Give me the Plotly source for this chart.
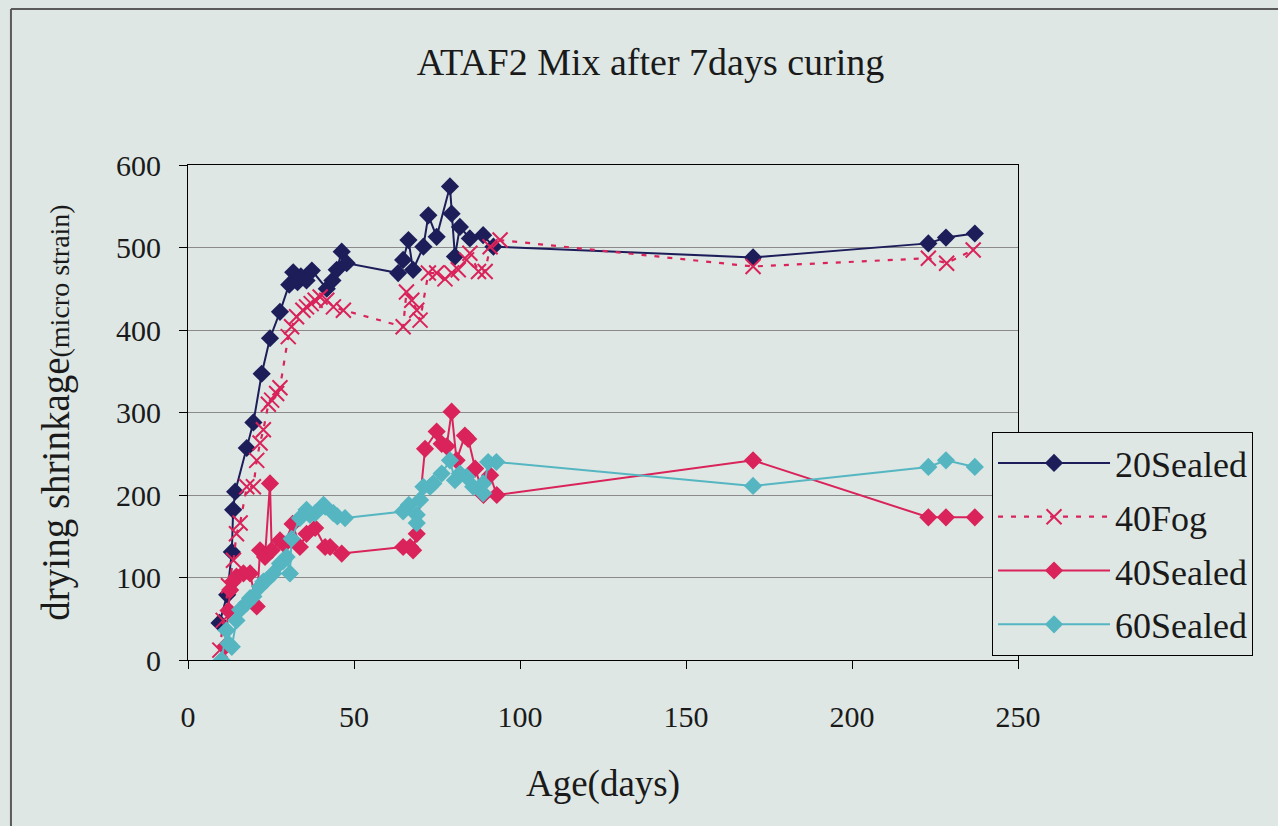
import plotly.graph_objects as go

# Age (days) and drying shrinkage (micro strain) for each curing condition
age_20sealed = [9.5, 11.8, 13.2, 13.6, 14.2, 17.7, 19.7, 22.2, 24.7, 27.7,
                30.5, 31.7, 33.0, 34.0, 35.7, 37.3, 41.8, 43.5, 44.8, 46.3, 47.8,
                63.3, 64.8, 66.4, 67.8, 70.9, 72.4, 74.9, 78.9, 79.4, 80.4,
                81.9, 84.9, 88.9, 92.0, 170.2, 223.0, 228.3, 237.0]
shr_20sealed = [45, 79, 131, 182, 204, 257, 288, 347, 390, 422,
                455, 470, 458, 465, 460, 472, 450, 460, 473, 495, 481,
                469, 485, 509, 473, 501, 539, 513, 574, 541, 489,
                525, 511, 515, 501, 488, 505, 512, 517]

age_40fog = [9.6, 10.6, 12.2, 13.7, 14.6, 15.7, 17.7, 19.7, 20.7, 21.7,
             22.7, 24.2, 25.2, 26.7, 27.7, 30.2, 31.2, 32.7, 34.6, 35.7,
             37.1, 38.3, 39.8, 41.8, 43.8, 46.8, 64.8, 65.8, 67.4, 68.9,
             69.9, 72.4, 74.9, 77.4, 79.4, 81.4, 83.9, 84.9, 87.5, 89.5,
             91.0, 94.0, 170.2, 223.0, 228.5, 236.5]
shr_40fog = [12, 48, 90, 121, 153, 166, 210, 210, 242, 263,
             279, 310, 315, 323, 330, 392, 404, 416, 424, 428,
             432, 436, 440, 436, 428, 424, 404, 446, 436, 424,
             412, 469, 469, 462, 469, 473, 485, 493, 471, 471,
             501, 509, 477, 487, 481, 497]

age_40sealed = [11.1, 12.2, 12.7, 13.5, 14.6, 16.7, 18.7, 20.7, 21.7, 23.2,
                24.7, 25.2, 27.7, 29.0, 31.5, 33.7, 35.7, 38.3, 41.3, 42.8,
                46.3, 64.8, 66.9, 67.8, 68.9, 71.4, 74.9, 76.4, 77.9, 79.4,
                80.9, 83.4, 84.4, 86.5, 89.0, 91.0, 93.0, 170.2, 223.0, 228.3, 237.0]
shr_40sealed = [16, 60, 85, 95, 101, 105, 105, 65, 133, 125,
                214, 133, 145, 140, 165, 137, 153, 160, 137, 137,
                129, 137, 137, 133, 153, 256, 277, 262, 259, 301,
                242, 272, 268, 232, 200, 224, 200, 242, 173, 173, 173]

age_60sealed = [10.1, 11.6, 12.2, 13.2, 14.6, 15.7, 17.7, 18.7, 19.7, 21.7,
                22.7, 23.7, 25.7, 27.7, 28.7, 29.7, 30.7, 31.2, 33.7, 35.7,
                36.7, 38.3, 40.8, 41.3, 43.8, 45.0, 47.3, 64.8, 66.5, 68.9,
                68.9, 69.9, 70.9, 72.9, 73.9, 76.4, 78.9, 80.4, 81.9, 83.9,
                85.9, 88.9, 88.9, 90.4, 92.9, 170.2, 223.0, 228.3, 237.0]
shr_60sealed = [0, 36, 20, 16, 48, 61, 69, 75, 77, 89,
                95, 97, 105, 117, 120, 125, 105, 147, 172, 182,
                176, 178, 188, 186, 178, 174, 172, 180, 188, 166,
                176, 194, 210, 210, 214, 226, 242, 218, 226, 222,
                210, 214, 202, 240, 240, 211, 234, 242, 234]

x_ticks = [0, 50, 100, 150, 200, 250]
y_ticks = [0, 100, 200, 300, 400, 500, 600]

NAVY = "#1d1d5a"
CRIMSON = "#d9235a"
TEAL = "#55b6c2"
BG = "#dee7e4"
INK = "#1a1a1a"
SERIF = "Liberation Serif, Times New Roman, serif"

fig = go.Figure()
fig.add_trace(go.Scatter(
    x=age_20sealed, y=shr_20sealed, name="20Sealed", legendgroup="a",
    mode="lines+markers", line=dict(color=NAVY, width=2),
    marker=dict(symbol="diamond", size=14, color=NAVY)))
fig.add_trace(go.Scatter(
    x=age_40fog, y=shr_40fog, name="40Fog", legendgroup="b",
    mode="lines+markers", line=dict(color=CRIMSON, width=2.2, dash="5px,8px"),
    marker=dict(symbol="x-thin-open", size=15,
                line=dict(color=CRIMSON, width=2))))
fig.add_trace(go.Scatter(
    x=age_40sealed, y=shr_40sealed, name="40Sealed", legendgroup="c",
    mode="lines+markers", line=dict(color=CRIMSON, width=2),
    marker=dict(symbol="diamond", size=14, color=CRIMSON)))
fig.add_trace(go.Scatter(
    x=age_60sealed, y=shr_60sealed, name="60Sealed", legendgroup="d",
    mode="lines+markers", line=dict(color=TEAL, width=2),
    marker=dict(symbol="diamond", size=14, color=TEAL)))

axis_common = dict(
    showline=True, linecolor="#000000", linewidth=1, mirror=True,
    ticks="outside", ticklen=8, tickcolor="#000000",
    tickfont=dict(family=SERIF, size=30, color=INK),
    zeroline=False,
)

fig.update_xaxes(
    range=[0, 250], tickvals=x_ticks, showgrid=False,
    ticklabelstandoff=22,
    title=dict(text="Age(days)", font=dict(family=SERIF, size=37, color=INK),
               standoff=38),
    **axis_common)
fig.update_yaxes(
    range=[0, 600], tickvals=y_ticks, showgrid=True,
    gridcolor="#8a8a8a", gridwidth=1, ticklabelstandoff=12,
    title=dict(text="drying shrinkage<span style='font-size:28px'>(micro strain)</span>",
               font=dict(family=SERIF, size=39, color=INK), standoff=34),
    **axis_common)

fig.update_layout(
    width=1278, height=826,
    margin=dict(l=188, r=260, t=165, b=166),
    paper_bgcolor=BG, plot_bgcolor=BG,
    title=dict(text="ATAF2 Mix after 7days curing",
               font=dict(family=SERIF, size=38, color=INK),
               x=0.509, xanchor="center", xref="container",
               y=0.925, yanchor="middle", yref="container"),
    legend=dict(
        x=0.9687, y=0.4606, xanchor="left", yanchor="top",
        bgcolor=BG, bordercolor="#000000", borderwidth=1,
        font=dict(family=SERIF, size=36, color=INK),
        itemwidth=112, tracegroupgap=4, traceorder="grouped"),
    shapes=[
        dict(type="line", xref="paper", yref="paper",
             x0=-0.2133, x1=1.5, y0=1.315, y1=1.315,
             line=dict(color="#5a5a5a", width=2)),
        dict(type="line", xref="paper", yref="paper",
             x0=-0.2133, x1=-0.2133, y0=1.315, y1=-0.5,
             line=dict(color="#5a5a5a", width=2)),
    ],
)

fig.write_html("out.html")
